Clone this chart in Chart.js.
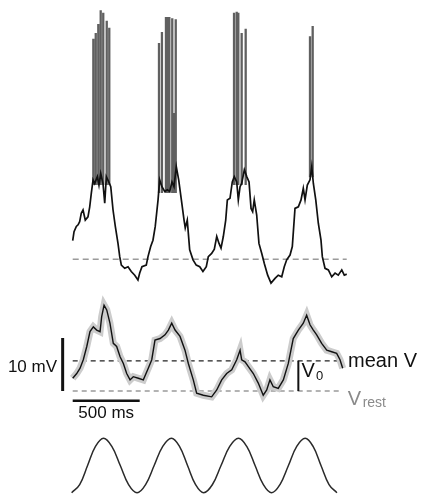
<!DOCTYPE html>
<html>
<head>
<meta charset="utf-8">
<script src="https://cdn.jsdelivr.net/npm/chart.js@4.4.1/dist/chart.umd.min.js"></script>
<style>
  html, body { margin: 0; padding: 0; background: #fff; }
  canvas { display: block; }
</style>
</head>
<body>
<canvas id="chart" width="424" height="495"></canvas>
<script>
// single trial, membrane potential (ms, mV relative to rest)
const topT = [0, 10, 27, 40, 52, 64, 77, 94, 114, 127,
  139, 152, 164, 184, 196, 209, 226, 239, 251, 269,
  284, 301, 318, 338, 351, 363, 388, 413, 437, 463,
  487, 500, 517, 549, 562, 582, 599, 616, 637, 649,
  666, 687, 706, 724, 741, 756, 773, 791, 811, 831,
  840, 855, 873, 898, 922, 948, 972, 997, 1012, 1037,
  1057, 1075, 1092, 1107, 1124, 1142, 1154, 1174, 1191, 1206,
  1224, 1236, 1249, 1261, 1281, 1299, 1316, 1331, 1343, 1355,
  1373, 1390, 1411, 1430, 1455, 1480, 1510, 1534, 1560, 1579,
  1597, 1622, 1639, 1659, 1684, 1704, 1721, 1734, 1751, 1771,
  1784, 1796, 1814, 1833, 1853, 1863, 1883, 1908, 1933, 1958,
  1982, 2008, 2027, 2045];
const topV = [3.5, 5.2, 6.2, 6.5, 7.1, 8.7, 9.3, 7.4, 8.0, 9.9,
  12.5, 15.0, 14.3, 15.6, 14.0, 16.2, 14.3, 10.6, 15.6, 14.6,
  13.7, 9.3, 6.2, 3.0, 0.5, -1.1, -1.7, -1.4, -2.3, -3.0,
  -3.9, -2.6, -1.4, -1.1, 0.5, 2.4, 3.6, 6.2, 11.2, 15.0,
  13.7, 12.8, 13.1, 12.8, 14.6, 13.7, 17.5, 15.0, 11.2, 7.4,
  5.9, 7.4, 1.8, -0.1, -1.1, -1.4, -2.3, -1.4, 0.5, 1.1,
  1.9, 4.3, 3.0, 2.1, 4.3, 7.4, 11.2, 11.5, 14.6, 15.6,
  14.6, 11.2, 13.7, 14.3, 16.9, 15.6, 14.6, 9.6, 9.0, 11.2,
  8.4, 3.0, 1.1, -0.8, -3.0, -4.5, -3.6, -3.0, -3.3, -1.4,
  -0.1, 0.8, 2.4, 9.6, 9.9, 11.2, 13.4, 11.2, 14.0, 15.0,
  17.5, 14.3, 11.2, 6.8, 3.6, 0.5, -1.7, -2.0, -3.3, -2.6,
  -3.0, -2.0, -3.0, -2.8];

// spikes (truncated action potentials)
const spikeT = [154, 172, 191, 209, 228, 254, 273,
  644, 666, 696, 709, 721, 743, 756, 769,
  1204, 1224, 1236, 1261, 1291,
  1771, 1791];
const spikePeak = [41.6, 42.7, 44.4, 47.0, 46.5, 45.0, 43.7,
  40.8, 42.9, 45.7, 45.7, 45.7, 45.5, 27.6, 45.3,
  46.5, 46.7, 46.5, 42.7, 43.5,
  42.1, 44.0];
const spikeBase = [14, 14, 14, 14, 14, 14, 14,
  12.5, 12.5, 12.5, 12.5, 12.5, 12.5, 12.5, 12.5,
  14, 14, 14, 14, 14,
  15.5, 15.5];

// trial average (ms, mV above rest)
const avgT = [0, 30, 55, 79, 105, 129, 154, 179, 204, 216,
  234, 254, 278, 303, 328, 353, 378, 403, 428, 452,
  490, 527, 564, 590, 614, 652, 689, 714, 739, 764,
  801, 838, 863, 900, 925, 975, 1037, 1075, 1112, 1149,
  1187, 1224, 1249, 1261, 1286, 1311, 1348, 1385, 1422, 1448,
  1472, 1497, 1534, 1572, 1609, 1646, 1684, 1721, 1746, 1771,
  1796, 1821, 1858, 1896, 1933, 1970, 1995, 2015];
const avgV = [2.4, 3.3, 4.3, 5.9, 8.4, 11.2, 12.1, 11.5, 11.2, 14.0,
  16.2, 15.3, 12.8, 9.0, 8.4, 6.5, 5.2, 3.3, 2.1, 2.7,
  2.4, 2.1, 4.3, 5.9, 9.6, 9.9, 10.6, 11.5, 12.8, 11.5,
  10.3, 7.7, 5.2, 2.1, -0.4, -0.8, -1.1, 0.2, 2.1, 3.3,
  4.0, 5.9, 7.7, 5.9, 5.5, 4.6, 3.3, 1.5, -0.8, 0.2,
  2.1, 0.8, 0.5, 2.1, 5.2, 9.9, 11.5, 12.8, 14.3, 12.5,
  11.5, 10.6, 9.0, 7.7, 7.4, 7.1, 5.9, 4.3];

const meanV = 5.7;
const restV = 0;
const traceEnd = 2045;
const v0At = 1684;
const scaleBarMs = 500;
const scaleBarMv = 10;

// sinusoidal stimulus (normalised)
const stimT = [-8, 52, 111, 170, 230, 292, 355, 417, 480,
  544, 608, 672, 737, 797, 857, 917, 978,
  1043, 1107, 1172, 1237, 1299, 1361, 1423, 1485,
  1547, 1610, 1672, 1735, 1794, 1853, 1913, 1972];
const stimV = [-1, -0.7, 0, 0.7, 1, 0.7, 0, -0.7, -1,
  -0.7, 0, 0.7, 1, 0.7, 0, -0.7, -1,
  -0.7, 0, 0.7, 1, 0.7, 0, -0.7, -1,
  -0.7, 0, 0.7, 1, 0.7, 0, -0.7, -1];

const pts = (xs, ys) => xs.map((x, i) => ({ x: x, y: ys[i] }));

const spikeData = [];
spikeT.forEach((t, i) => {
  spikeData.push({ x: t, y: spikeBase[i] }, { x: t, y: spikePeak[i] }, { x: t, y: null });
});

const FONT = '"Liberation Sans", Arial, Helvetica, sans-serif';

// text labels placed in data coordinates
const labelPlugin = {
  id: 'labels',
  afterDatasetsDraw(chart) {
    const ctx = chart.ctx;
    const sx = chart.scales.x, sy = chart.scales.yMid;
    const put = (str, t, v, size, color, align) => {
      ctx.font = size + 'px ' + FONT;
      ctx.fillStyle = color;
      ctx.textAlign = align || 'left';
      ctx.textBaseline = 'alphabetic';
      ctx.fillText(str, sx.getPixelForValue(t), sy.getPixelForValue(v));
    };
    ctx.save();
    put('10 mV', -117, 3.6, 17, '#111', 'right');
    put('500 ms', scaleBarMs / 2, -5.1, 17, '#111', 'center');
    put('mean V', 2055, 4.6, 20, '#111');
    put('V', 1707, 2.6, 20, '#111');
    put('0', 1816, 2.0, 13, '#111');
    put('V', 2052, -2.64, 20, '#8a8a8a');
    put('rest', 2164, -3.1, 14, '#8a8a8a');
    ctx.restore();
  }
};

const line = (data, axis, color, width, extra) => Object.assign({
  data: data, yAxisID: axis, borderColor: color, borderWidth: width,
  pointRadius: 0, fill: false, tension: 0
}, extra || {});

new Chart(document.getElementById('chart'), {
  type: 'line',
  data: {
    datasets: [
      line(pts(topT, topV), 'yTop', '#111', 1.7, { order: 0 }),
      line(spikeData, 'yTop', '#606060', 2.3, { order: 1, spanGaps: false }),
      line([{ x: 0, y: restV }, { x: traceEnd, y: restV }], 'yTop', '#9a9a9a', 1.5, { order: 5, borderDash: [6, 4] }),

      line(pts(avgT, avgV), 'yMid', '#111', 1.4, { order: 0 }),
      line(pts(avgT, avgV), 'yMid', '#cccccc', 7, { order: 3 }),
      line([{ x: 0, y: meanV }, { x: 2007, y: meanV }], 'yMid', '#222', 1.3, { order: 4, borderDash: [5, 4] }),
      line([{ x: 0, y: restV }, { x: 2007, y: restV }], 'yMid', '#9a9a9a', 1.3, { order: 4, borderDash: [5, 4] }),
      line([{ x: v0At, y: restV }, { x: v0At, y: meanV }], 'yMid', '#111', 2, { order: 0 }),
      line([{ x: -75, y: 0 }, { x: -75, y: scaleBarMv }], 'yMid', '#111', 3, { order: 0 }),
      line([{ x: 0, y: -1.83 }, { x: scaleBarMs, y: -1.83 }], 'yMid', '#111', 2.5, { order: 0 }),

      line(pts(stimT, stimV), 'ySine', '#2a2a2a', 1.5, { order: 0, tension: 0.4 })
    ]
  },
  options: {
    responsive: false,
    animation: false,
    events: [],
    layout: { padding: 0 },
    plugins: { legend: { display: false }, tooltip: { enabled: false } },
    scales: {
      x: { type: 'linear', display: false, min: -542.6, max: 2621.8 },
      yTop: { type: 'linear', display: false, min: -44.47, max: 48.92 },
      yMid: { type: 'linear', display: false, min: -19.62, max: 73.77 },
      ySine: { type: 'linear', display: false, min: -1.085, max: 17.11 }
    }
  },
  plugins: [labelPlugin]
});
</script>
</body>
</html>
